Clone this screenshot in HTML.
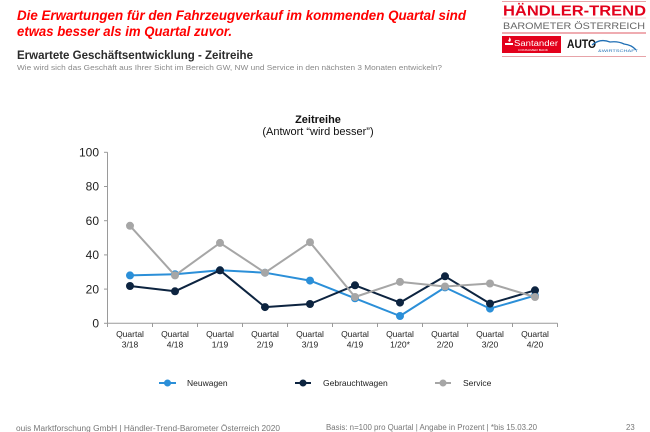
<!DOCTYPE html>
<html>
<head>
<meta charset="utf-8">
<style>
html,body{margin:0;padding:0;background:#fff;}
body{width:650px;height:432px;overflow:hidden;}
svg{display:block;}
text{font-family:"Liberation Sans",Arial,sans-serif;}
</style>
</head>
<body>
<svg width="650" height="432" viewBox="0 0 650 432" xmlns="http://www.w3.org/2000/svg">
  <rect width="650" height="432" fill="#fff"/>

  <!-- Headline -->
  <text x="17" y="20" font-size="13.4" font-weight="bold" font-style="italic" fill="#ff0000" textLength="449" lengthAdjust="spacingAndGlyphs">Die Erwartungen für den Fahrzeugverkauf im kommenden Quartal sind</text>
  <text x="17" y="36" font-size="13.4" font-weight="bold" font-style="italic" fill="#ff0000" textLength="215" lengthAdjust="spacingAndGlyphs">etwas besser als im Quartal zuvor.</text>

  <!-- Subtitle -->
  <text x="17" y="59" font-size="11.5" font-weight="bold" fill="#2b2b2b" textLength="236" lengthAdjust="spacingAndGlyphs">Erwartete Geschäftsentwicklung - Zeitreihe</text>
  <text x="17" y="70" font-size="7.6" fill="#8a8a8a" textLength="425" lengthAdjust="spacingAndGlyphs">Wie wird sich das Geschäft aus Ihrer Sicht im Bereich GW, NW und Service in den nächsten 3 Monaten entwickeln?</text>

  <!-- Logo -->
  <line x1="502" y1="1.5" x2="646" y2="1.5" stroke="#e7a3a8" stroke-width="1"/>
  <text x="503" y="15.5" font-size="14.5" font-weight="bold" fill="#e3001b" textLength="143" lengthAdjust="spacingAndGlyphs">HÄNDLER-TREND</text>
  <line x1="502" y1="18" x2="646" y2="18" stroke="#f0c4c7" stroke-width="0.8"/>
  <text x="503" y="29" font-size="9.5" fill="#666" textLength="142" lengthAdjust="spacingAndGlyphs">BAROMETER ÖSTERREICH</text>
  <line x1="502" y1="33" x2="646" y2="33" stroke="#e57a82" stroke-width="1.2"/>
  <rect x="502" y="36" width="59" height="17" fill="#e3001b"/>
  <path d="M508 41 q2 -3 1 -4 q3 2 1 5 z" fill="#fff"/>
  <rect x="505" y="43" width="8" height="2" fill="#fff"/>
  <text x="514" y="46" font-family="Liberation Serif,serif" font-size="8" fill="#fff" textLength="44" lengthAdjust="spacingAndGlyphs">Santander</text>
  <text x="518" y="51" font-size="2.6" fill="#fff" textLength="30" lengthAdjust="spacingAndGlyphs">CONSUMER BANK</text>
  <text x="567" y="48" font-size="11.5" font-weight="bold" fill="#111" textLength="29" lengthAdjust="spacingAndGlyphs">AUTO</text>
  <path d="M592 45 q8 -7 18 -3 q8 -1 14 2 q8 1 12 6" fill="none" stroke="#1f6fb5" stroke-width="1.3"/>
  <text x="598" y="52" font-size="3.4" fill="#1f6fb5" textLength="40" lengthAdjust="spacingAndGlyphs">&amp;WIRTSCHAFT</text>
  <line x1="502" y1="56.5" x2="646" y2="56.5" stroke="#e7a3a8" stroke-width="1"/>

  <!-- Chart title -->
  <text x="318" y="123" font-size="11" font-weight="bold" fill="#111" text-anchor="middle">Zeitreihe</text>
  <text x="318" y="135" font-size="11" fill="#111" text-anchor="middle">(Antwort “wird besser”)</text>

  <!-- Y axis -->
  <g stroke="#9a9a9a" stroke-width="1">
    <line x1="107.5" y1="152.3" x2="107.5" y2="323.3"/>
    <line x1="104" y1="152.3" x2="107.5" y2="152.3"/>
    <line x1="104" y1="186.5" x2="107.5" y2="186.5"/>
    <line x1="104" y1="220.7" x2="107.5" y2="220.7"/>
    <line x1="104" y1="254.9" x2="107.5" y2="254.9"/>
    <line x1="104" y1="289.1" x2="107.5" y2="289.1"/>
    <line x1="104" y1="323.3" x2="107.5" y2="323.3"/>
  </g>
  <g font-size="12" fill="#222" text-anchor="end">
    <text x="99" y="156.5">100</text>
    <text x="99" y="190.7">80</text>
    <text x="99" y="224.9">60</text>
    <text x="99" y="259.1">40</text>
    <text x="99" y="293.3">20</text>
    <text x="99" y="327.5">0</text>
  </g>

  <!-- X axis -->
  <g stroke="#9a9a9a" stroke-width="1">
    <line x1="107.5" y1="323.3" x2="557.5" y2="323.3"/>
    <line x1="107.5" y1="323.3" x2="107.5" y2="327"/>
    <line x1="152.5" y1="323.3" x2="152.5" y2="327"/>
    <line x1="197.5" y1="323.3" x2="197.5" y2="327"/>
    <line x1="242.5" y1="323.3" x2="242.5" y2="327"/>
    <line x1="287.5" y1="323.3" x2="287.5" y2="327"/>
    <line x1="332.5" y1="323.3" x2="332.5" y2="327"/>
    <line x1="377.5" y1="323.3" x2="377.5" y2="327"/>
    <line x1="422.5" y1="323.3" x2="422.5" y2="327"/>
    <line x1="467.5" y1="323.3" x2="467.5" y2="327"/>
    <line x1="512.5" y1="323.3" x2="512.5" y2="327"/>
    <line x1="557.5" y1="323.3" x2="557.5" y2="327"/>
  </g>
  <g font-size="8.5" fill="#222" text-anchor="middle">
    <text x="130" y="337">Quartal</text><text x="130" y="347.5">3/18</text>
    <text x="175" y="337">Quartal</text><text x="175" y="347.5">4/18</text>
    <text x="220" y="337">Quartal</text><text x="220" y="347.5">1/19</text>
    <text x="265" y="337">Quartal</text><text x="265" y="347.5">2/19</text>
    <text x="310" y="337">Quartal</text><text x="310" y="347.5">3/19</text>
    <text x="355" y="337">Quartal</text><text x="355" y="347.5">4/19</text>
    <text x="400" y="337">Quartal</text><text x="400" y="347.5">1/20*</text>
    <text x="445" y="337">Quartal</text><text x="445" y="347.5">2/20</text>
    <text x="490" y="337">Quartal</text><text x="490" y="347.5">3/20</text>
    <text x="535" y="337">Quartal</text><text x="535" y="347.5">4/20</text>
  </g>

  <!-- Neuwagen -->
  <polyline fill="none" stroke="#2b8fd8" stroke-width="2" stroke-linejoin="round"
    points="130,275.4 175,274.2 220,270.3 265,272.7 310,280.6 355,298.3 400,316.0 445,287.4 490,308.6 535,295.6"/>
  <g fill="#2b8fd8">
    <circle cx="130" cy="275.4" r="4"/><circle cx="175" cy="274.2" r="4"/><circle cx="220" cy="270.3" r="4"/>
    <circle cx="265" cy="272.7" r="4"/><circle cx="310" cy="280.6" r="4"/><circle cx="355" cy="298.3" r="4"/>
    <circle cx="400" cy="316.0" r="4"/><circle cx="445" cy="287.4" r="4"/><circle cx="490" cy="308.6" r="4"/>
    <circle cx="535" cy="295.6" r="4"/>
  </g>

  <!-- Gebrauchtwagen -->
  <polyline fill="none" stroke="#0d2440" stroke-width="2" stroke-linejoin="round"
    points="130,286.0 175,291.3 220,270.3 265,307.1 310,304.0 355,285.3 400,302.6 445,276.3 490,303.6 535,290.3"/>
  <g fill="#0d2440">
    <circle cx="130" cy="286.0" r="4"/><circle cx="175" cy="291.3" r="4"/><circle cx="220" cy="270.3" r="4"/>
    <circle cx="265" cy="307.1" r="4"/><circle cx="310" cy="304.0" r="4"/><circle cx="355" cy="285.3" r="4"/>
    <circle cx="400" cy="302.6" r="4"/><circle cx="445" cy="276.3" r="4"/><circle cx="490" cy="303.6" r="4"/>
    <circle cx="535" cy="290.3" r="4"/>
  </g>

  <!-- Service -->
  <polyline fill="none" stroke="#a6a6a6" stroke-width="2" stroke-linejoin="round"
    points="130,225.8 175,275.4 220,242.9 265,272.7 310,242.2 355,297.0 400,281.9 445,286.5 490,283.5 535,297.0"/>
  <g fill="#a6a6a6">
    <circle cx="130" cy="225.8" r="4"/><circle cx="175" cy="275.4" r="4"/><circle cx="220" cy="242.9" r="4"/>
    <circle cx="265" cy="272.7" r="4"/><circle cx="310" cy="242.2" r="4"/><circle cx="355" cy="297.0" r="4"/>
    <circle cx="400" cy="281.9" r="4"/><circle cx="445" cy="286.5" r="4"/><circle cx="490" cy="283.5" r="4"/>
    <circle cx="535" cy="297.0" r="4"/>
  </g>

  <!-- Legend -->
  <line x1="159" y1="383" x2="176" y2="383" stroke="#2b8fd8" stroke-width="2"/>
  <circle cx="167.5" cy="383" r="3.5" fill="#2b8fd8"/>
  <text x="187" y="386" font-size="8.5" fill="#222">Neuwagen</text>

  <line x1="295" y1="383" x2="311" y2="383" stroke="#0d2440" stroke-width="2"/>
  <circle cx="303" cy="383" r="3.5" fill="#0d2440"/>
  <text x="323" y="386" font-size="8.5" fill="#222">Gebrauchtwagen</text>

  <line x1="435" y1="383" x2="451" y2="383" stroke="#a6a6a6" stroke-width="2"/>
  <circle cx="443" cy="383" r="3.5" fill="#a6a6a6"/>
  <text x="463" y="386" font-size="8.5" fill="#222">Service</text>

  <!-- Footer -->
  <text x="16" y="431" font-size="7.8" fill="#777" textLength="264" lengthAdjust="spacingAndGlyphs">ouis Marktforschung GmbH | Händler-Trend-Barometer Österreich 2020</text>
  <text x="326" y="430" font-size="7.8" fill="#777" textLength="211" lengthAdjust="spacingAndGlyphs">Basis: n=100 pro Quartal | Angabe in Prozent | *bis 15.03.20</text>
  <text x="626" y="430" font-size="7.8" fill="#777">23</text>
</svg>
</body>
</html>
